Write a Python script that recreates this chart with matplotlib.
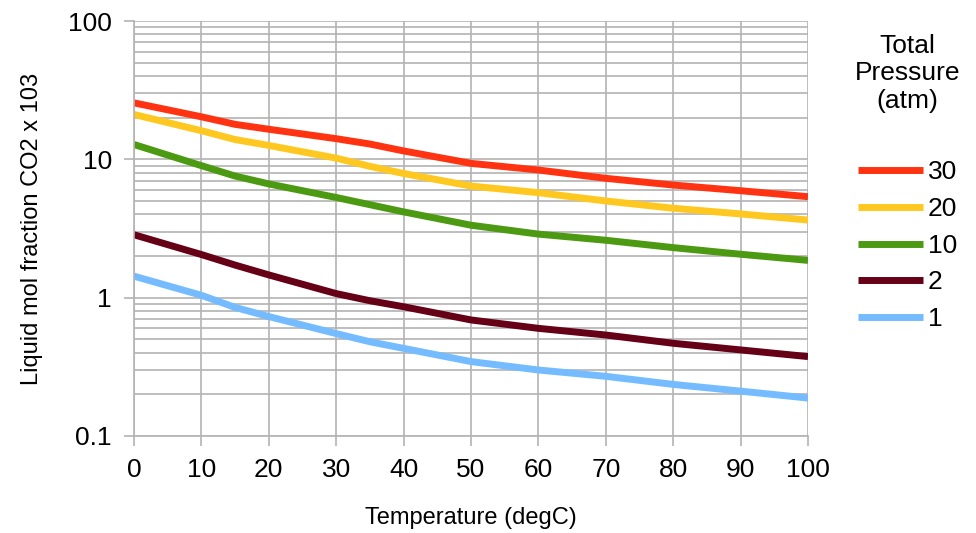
import matplotlib
matplotlib.use('Agg')
import matplotlib.pyplot as plt
from matplotlib.ticker import LogLocator, FixedLocator, NullFormatter

plt.rcParams['font.family'] = ['Liberation Sans', 'DejaVu Sans']

# Temperature (degC)
temps = [0, 10, 15, 20, 30, 35, 40, 50, 60, 70, 80, 90, 100]

# Liquid mol fraction CO2 x 10^3, per total pressure (atm)
p30 = [25.6, 20.3, 17.9, 16.5, 14.1, 12.9, 11.5, 9.35, 8.37, 7.29, 6.52, 5.93, 5.37]
p20 = [21.1, 16.1, 13.9, 12.6, 10.2, 8.9, 7.9, 6.41, 5.74, 5.0, 4.43, 4.03, 3.64]
p10 = [12.8, 9.0, 7.57, 6.64, 5.3, 4.7, 4.17, 3.34, 2.88, 2.60, 2.30, 2.06, 1.86]
p2 = [2.85, 2.05, 1.72, 1.46, 1.07, 0.95, 0.86, 0.69, 0.60, 0.537, 0.468, 0.419, 0.375]
p1 = [1.43, 1.04, 0.85, 0.73, 0.55, 0.48, 0.43, 0.345, 0.30, 0.27, 0.236, 0.211, 0.188]

series = [('30', p30, '#ff3311'),
          ('20', p20, '#ffc820'),
          ('10', p10, '#4b9a12'),
          ('2', p2, '#660016'),
          ('1', p1, '#74bcff')]

grid_col = '#b3b3b3'

fig = plt.figure(figsize=(9.76, 5.33), dpi=100)
ax = fig.add_axes([0.1373, 0.182, 0.6906, 0.7786])

for name, vals, col in series:
    ax.plot(temps, vals, color=col, lw=5, label=name, solid_capstyle='butt')

ax.set_yscale('log')
ax.set_ylim(0.1, 100)
ax.set_xlim(0, 100)
ax.xaxis.set_major_locator(FixedLocator(range(0, 101, 10)))
ax.yaxis.set_major_locator(FixedLocator([0.1, 1, 10, 100]))
ax.set_yticklabels(['0.1', '1', '10', '100'])
ax.yaxis.set_minor_locator(LogLocator(base=10, subs=range(2, 10)))
ax.yaxis.set_minor_formatter(NullFormatter())

ax.grid(True, which='major', color=grid_col, lw=1.2)
ax.grid(True, which='minor', axis='y', color=grid_col, lw=1.2)
ax.set_axisbelow(True)

for side in ['top', 'right']:
    ax.spines[side].set_visible(False)
for side in ['left', 'bottom']:
    ax.spines[side].set_color(grid_col)
    ax.spines[side].set_linewidth(1.2)

ax.tick_params(axis='both', which='major', colors=grid_col, labelcolor='black',
               labelsize=19, length=7, width=1.2, direction='out')
ax.tick_params(axis='y', which='minor', length=0)
ax.tick_params(axis='y', pad=9)
ax.tick_params(axis='x', pad=9)

ax.set_xlabel('Temperature (degC)', fontsize=17, labelpad=18)
ax.set_ylabel('Liquid mol fraction CO2 x 103', fontsize=17, labelpad=18)

leg = ax.legend(title='Total\nPressure\n(atm)', loc='upper left',
                bbox_to_anchor=(1.054, 0.995), frameon=False, fontsize=19,
                handlelength=2.45, handletextpad=0.2, labelspacing=0.48,
                borderaxespad=0)
leg.get_title().set_fontsize(19)
leg.get_title().set_multialignment('center')
leg._legend_box.sep = 34

fig.savefig('out.png', dpi=100)
